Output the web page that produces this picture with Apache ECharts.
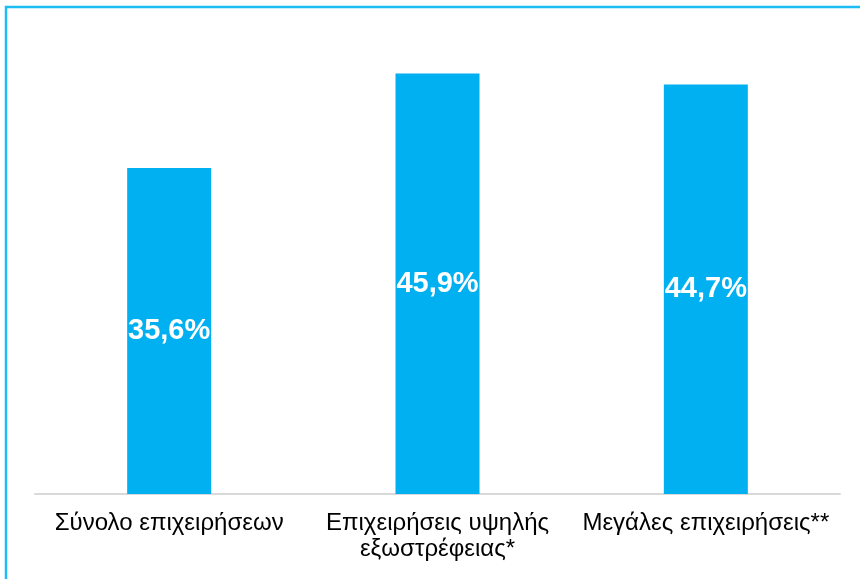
<!DOCTYPE html>
<html>
<head>
<meta charset="utf-8">
<style>
  html, body { margin: 0; padding: 0; background: #fff; }
  #chart { width: 860px; height: 579px; }
</style>
<script src="https://cdn.jsdelivr.net/npm/echarts@6/dist/echarts.min.js"></script>
</head>
<body>
<div id="chart"></div>
<script>
// Share of enterprises (%) by group
const categories = [
  'Σύνολο επιχειρήσεων',
  'Επιχειρήσεις υψηλής\nεξωστρέφειας*',
  'Μεγάλες επιχειρήσεις**'
];
const values = [35.6, 45.9, 44.7];

const chart = echarts.init(document.getElementById('chart'));

chart.setOption({
  animation: false,
  backgroundColor: '#ffffff',
  grid: { left: 35, right: 20, top: 36, bottom: 85 },
  xAxis: {
    type: 'category',
    data: categories,
    axisLine: { lineStyle: { color: '#d9d9d9', width: 2 } },
    axisTick: { show: false },
    axisLabel: {
      color: '#000000',
      fontFamily: 'Liberation Sans, Arial, sans-serif',
      fontSize: 24,
      lineHeight: 26,
      margin: 16,
      interval: 0
    }
  },
  yAxis: {
    type: 'value',
    min: 0,
    max: 50,
    show: false,
    splitLine: { show: false }
  },
  series: [{
    type: 'bar',
    data: values,
    barWidth: 84,
    itemStyle: { color: '#00B0F0' },
    label: {
      show: true,
      position: 'inside',
      color: '#ffffff',
      fontFamily: 'Liberation Sans, Arial, sans-serif',
      fontWeight: 'bold',
      fontSize: 29,
      formatter: p => p.value.toFixed(1).replace('.', ',') + '%'
    }
  }],
  graphic: [{
    type: 'polyline',
    shape: { points: [[6, 579], [6, 7], [860, 7]] },
    style: { stroke: '#1CBDF2', lineWidth: 2.5, fill: null },
    silent: true
  }]
});
</script>
</body>
</html>
